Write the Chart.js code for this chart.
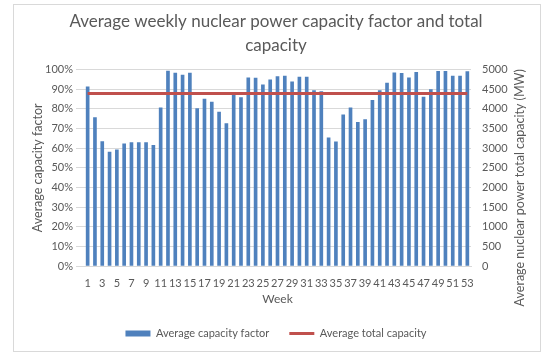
<!DOCTYPE html>
<html>
<head>
<meta charset="utf-8">
<script src="https://cdn.jsdelivr.net/npm/chart.js@4/dist/chart.umd.min.js"></script>
<style>
  body { margin: 0; background: #fff; }
  #wrap { position: relative; width: 548px; height: 363px; }
  #frame { position: absolute; left: 13px; top: 4px; width: 526px; height: 346px; border: 1px solid #d9d9d9; }
  canvas { position: absolute; left: 0; top: 0; }
</style>
</head>
<body>
<div id="wrap">
  <div id="frame"></div>
  <canvas id="grafico" width="548" height="363"></canvas>
</div>
<script>
// semanas 1..53
const weeks = [];
for (let w = 1; w <= 53; w++) weeks.push(String(w));

// fator de capacidade médio (%)
const capacityFactor = [
  91.2, 75.6, 63.4, 58.0, 59.2, 62.2, 62.8, 62.8, 62.8, 61.5,
  80.5, 99.3, 98.2, 97.2, 98.2, 80.1, 85.0, 83.4, 78.4, 72.5,
  87.4, 85.7, 95.8, 95.7, 92.2, 94.8, 96.5, 96.7, 93.8, 96.2,
  96.2, 89.3, 88.8, 65.3, 63.2, 77.0, 80.5, 73.1, 74.6, 84.3,
  89.3, 93.1, 98.4, 98.1, 95.8, 98.6, 86.0, 89.8, 99.1, 99.1,
  96.7, 96.7, 99.0
];

// capacidade total média (MW)
const totalCapacity = [
  4390, 4390, 4390, 4390, 4390, 4390, 4390, 4390, 4390, 4390,
  4390, 4390, 4390, 4390, 4390, 4390, 4390, 4390, 4390, 4390,
  4390, 4390, 4390, 4390, 4390, 4390, 4390, 4390, 4390, 4390,
  4390, 4390, 4390, 4390, 4390, 4390, 4390, 4390, 4390, 4390,
  4390, 4390, 4390, 4390, 4390, 4390, 4390, 4390, 4390, 4390,
  4390, 4390, 4390
];

const FONT = "Lato, 'Open Sans', sans-serif";
const GREY = '#595959';

// título do eixo direito, escrito de baixo para cima
const rightTitle = {
  id: 'rightTitle',
  afterDraw(chart) {
    const ctx = chart.ctx;
    const area = chart.chartArea;
    ctx.save();
    ctx.translate(520, (area.top + area.bottom) / 2 + 20);
    ctx.rotate(-Math.PI / 2);
    ctx.font = "12.5px " + FONT;
    ctx.fillStyle = GREY;
    ctx.textAlign = 'center';
    ctx.textBaseline = 'middle';
    ctx.fillText('Average nuclear power total capacity (MW)', 0, 0);
    ctx.restore();
  }
};

const ctx = document.getElementById('grafico').getContext('2d');
new Chart(ctx, {
  type: 'bar',
  data: {
    labels: weeks,
    datasets: [{
      type: 'bar',
      label: 'Average capacity factor',
      data: capacityFactor,
      backgroundColor: '#4F81BD',
      barThickness: 3,
      yAxisID: 'y',
      order: 1,
      pointStyle: 'rect'
    }, {
      type: 'line',
      label: 'Average total capacity',
      data: totalCapacity,
      borderColor: '#C0504D',
      backgroundColor: '#C0504D',
      borderWidth: 3,
      pointRadius: 0,
      yAxisID: 'y1',
      order: 0,
      pointStyle: 'line'
    }]
  },
  options: {
    responsive: false,
    animation: false,
    layout: { padding: { top: 4, left: 13, right: 9, bottom: 14 } },
    plugins: {
      tooltip: { enabled: false },
      title: {
        display: true,
        text: ['Average weekly nuclear power capacity factor and total', 'capacity'],
        color: GREY,
        font: { family: FONT, size: 17, weight: 'normal', lineHeight: 1.4 },
        padding: { top: 6, bottom: 12 }
      },
      legend: {
        position: 'bottom',
        labels: {
          usePointStyle: true,
          pointStyleWidth: 25,
          boxHeight: 6,
          padding: 20,
          color: GREY,
          font: { family: FONT, size: 11 },
          sort: (a, b) => a.datasetIndex - b.datasetIndex
        }
      }
    },
    scales: {
      x: {
        grid: { display: false },
        border: { color: '#d9d9d9' },
        ticks: {
          color: GREY,
          font: { family: FONT, size: 11 },
          autoSkip: false,
          maxRotation: 0,
          callback: function(v, i) { return i % 2 === 0 ? this.getLabelForValue(v) : ''; }
        },
        title: { display: true, text: 'Week', color: GREY, font: { family: FONT, size: 12 }, padding: 2 },
        afterFit: s => { s.height = 42; }
      },
      y: {
        position: 'left',
        min: 0, max: 100,
        ticks: { stepSize: 10, color: GREY, font: { family: FONT, size: 11 }, callback: v => v + '%' },
        grid: { color: '#d9d9d9' },
        border: { display: false },
        title: { display: true, text: 'Average capacity factor', color: GREY, font: { family: FONT, size: 12.5 }, padding: { top: 17, bottom: 0 } },
        afterFit: s => { s.width = 71; }
      },
      y1: {
        position: 'right',
        min: 0, max: 5000,
        ticks: { stepSize: 500, color: GREY, font: { family: FONT, size: 11 }, callback: v => String(v) },
        grid: { drawOnChartArea: false, display: false },
        border: { display: false },
        afterFit: s => { s.width = 68; }
      }
    }
  },
  plugins: [rightTitle]
});
</script>
</body>
</html>
